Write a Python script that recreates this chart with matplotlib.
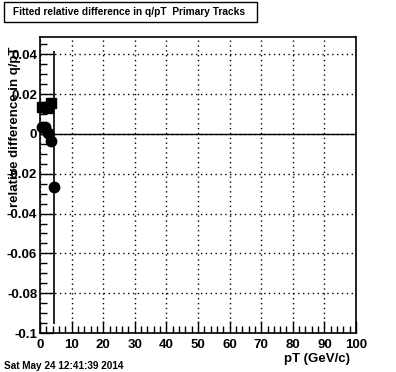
import matplotlib
matplotlib.use("Agg")
import matplotlib.pyplot as plt
from matplotlib.ticker import MultipleLocator, FixedLocator
from matplotlib.patches import Rectangle

plt.rcParams['font.family'] = ['Liberation Sans', 'DejaVu Sans']

# Data
sq_x = [0.5, 1.5, 2.5, 3.5]
sq_y = [0.0135, 0.0135, 0.0130, 0.0155]
circ_x = [0.5, 1.5, 2.5, 3.5, 4.3]
circ_y = [0.0035, 0.0035, 0.0005, -0.0035, -0.0268]
circ_err = [0.0005, 0.0005, 0.0005, 0.0005, 0.0685]
x_ticks = [0, 10, 20, 30, 40, 50, 60, 70, 80, 90, 100]
y_ticks = [-0.1, -0.08, -0.06, -0.04, -0.02, 0, 0.02, 0.04]
y_tick_labels = ['-0.1', '-0.08', '-0.06', '-0.04', '-0.02', '0', '0.02', '0.04']

W, H = 396, 372
fig = plt.figure(figsize=(W/100, H/100), dpi=100)
fig.patch.set_facecolor('white')
ax = fig.add_axes([40/W, 1-333/H, 316/W, 296/H])
ax.set_xlim(0, 100)
ax.set_ylim(-0.1, 0.0487)

ax.axhline(0, color='black', lw=1.0, zorder=2)
ax.errorbar(circ_x, circ_y, yerr=circ_err, fmt='o', color='black', ms=7.5,
            elinewidth=1.2, capsize=0, zorder=4, clip_on=False)
ax.plot(sq_x, sq_y, 's', color='black', ms=7.5, zorder=4, clip_on=False)

ax.xaxis.set_major_locator(FixedLocator(x_ticks))
ax.xaxis.set_minor_locator(MultipleLocator(2))
ax.yaxis.set_major_locator(FixedLocator(y_ticks))
ax.yaxis.set_minor_locator(MultipleLocator(0.005))
ax.set_xticklabels([str(v) for v in x_ticks])
ax.set_yticklabels(y_tick_labels)
ax.grid(True, which='major', color='black', linestyle=(0, (1, 2.5)), lw=1.0)
ax.tick_params(which='both', direction='in', top=False, right=False, color='black', width=1.0)
ax.tick_params(which='major', length=9)
ax.tick_params(which='minor', length=5)
ax.tick_params(axis='x', pad=4)
ax.tick_params(axis='y', pad=2)
for lab in ax.get_xticklabels() + ax.get_yticklabels():
    lab.set_fontweight('bold')
    lab.set_fontsize(9.5)
for s in ax.spines.values():
    s.set_linewidth(1.2)

fig.text(350/W, 1-359/H, 'pT (GeV/c)', ha='right', va='center', fontsize=9.5, fontweight='bold')
fig.text(15/W, 1-47/H, 'relative difference in q/pT', rotation=90, ha='center', va='top',
         fontsize=9.5, fontweight='bold')
fig.text(4/W, 1-366/H, 'Sat May 24 12:41:39 2014', ha='left', va='center', fontsize=7.2, fontweight='bold')

fig.patches.append(Rectangle((4/W, 1-22/H), 253/W, 20/H, transform=fig.transFigure,
                             fill=False, edgecolor='black', lw=1.0))
fig.text(13/W, 1-12/H, 'Fitted relative difference in q/pT  Primary Tracks', ha='left', va='center',
         fontsize=7.3, fontweight='bold')

fig.savefig('out.png', dpi=100)
